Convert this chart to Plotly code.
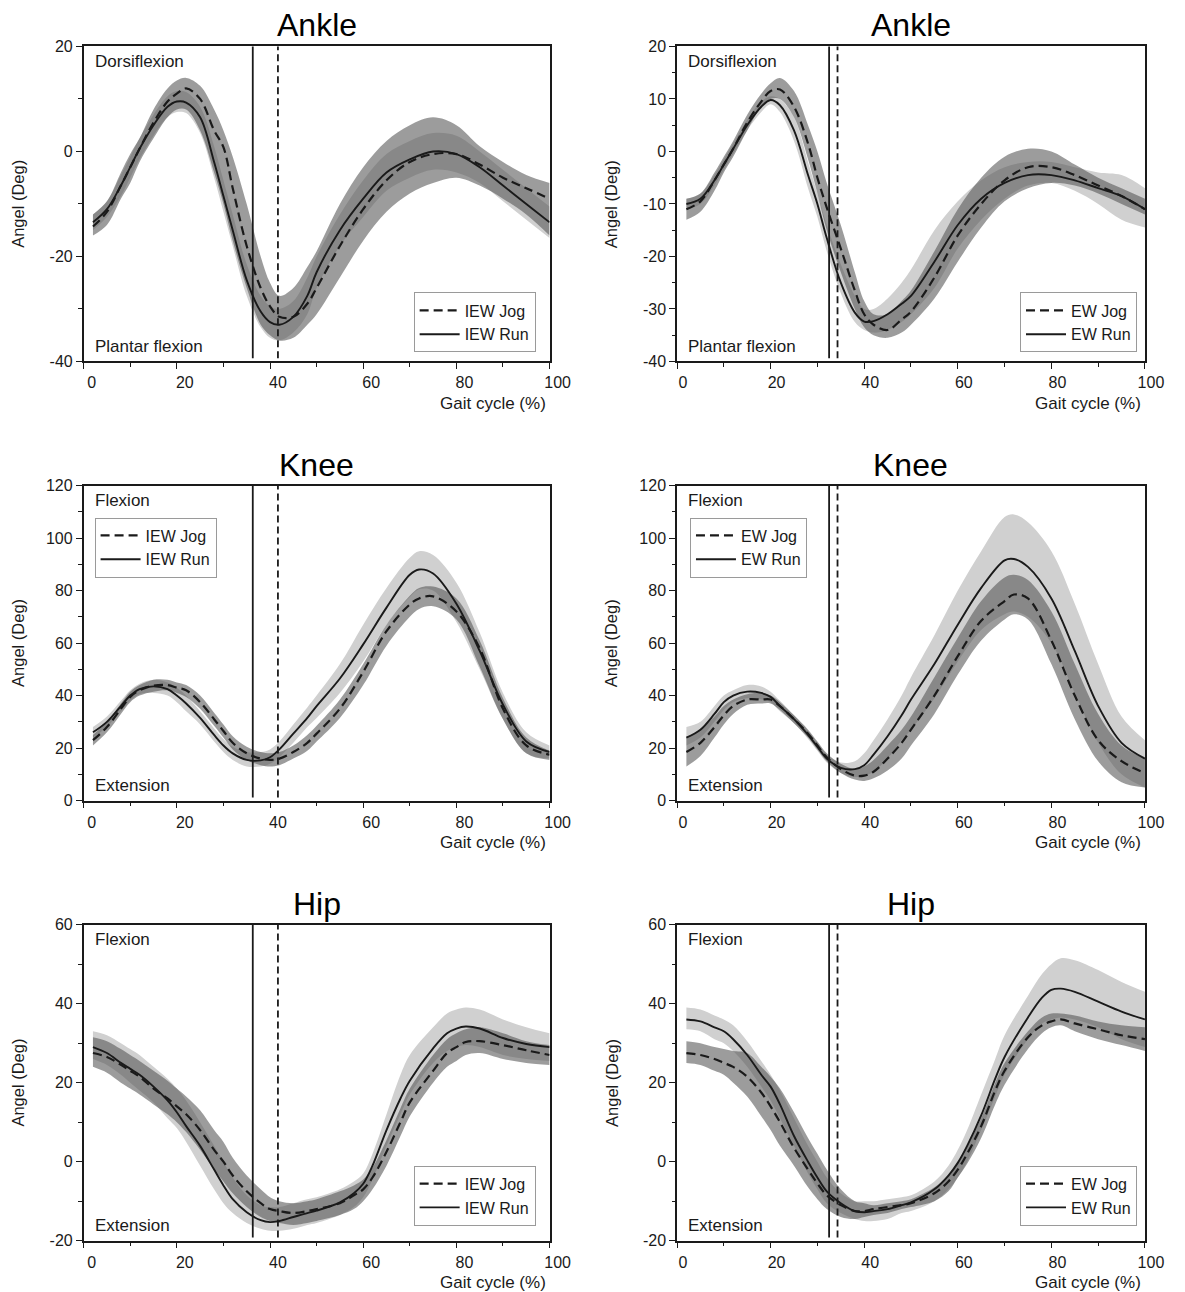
import plotly.graph_objects as go

W, H = 1185, 1292

# ---------------- data ----------------
ANKLE_X = [2, 5, 8, 10, 12, 15, 18, 20, 22, 25, 28, 30, 32, 35, 38, 40, 42, 45, 48, 50,
           55, 60, 65, 70, 75, 80, 85, 90, 95, 100]
KNEE_X = [2, 5, 8, 10, 12, 15, 18, 20, 22, 25, 28, 30, 32, 35, 38, 40, 42, 45, 48, 50,
          55, 60, 65, 70, 72, 75, 80, 85, 90, 95, 100]
HIP_X = [2, 5, 8, 10, 12, 15, 18, 20, 22, 25, 28, 30, 32, 35, 38, 40, 42, 45, 48, 50,
         55, 58, 60, 62, 65, 68, 70, 75, 78, 80, 82, 85, 90, 95, 100]

# Ankle, IEW
ANKLE_IEW_RUN = [-13.5, -11, -6.5, -3, 0.5, 5, 8.5, 9.5, 9.3, 6.5, -2, -8.5, -15, -24.5, -30.5,
                 -32.5, -33, -31.5, -27.5, -23, -15, -9, -4, -1.5, 0, -0.5, -3, -6.5, -10, -13.5]
ANKLE_IEW_RUN_UP = [-12, -9.5, -4.5, -1, 2.5, 7, 10.5, 11.5, 11.3, 8.5, 1, -5.5, -12, -21.5, -27.5,
                    -29.5, -30, -28.5, -24, -20, -12, -5.5, -0.5, 2, 3.5, 3, 0, -3.5, -7, -10.5]
ANKLE_IEW_RUN_LO = [-15, -12.5, -8.5, -5, -1.5, 3, 6.5, 7.5, 7.3, 3.5, -5, -11.5, -18, -27.5, -33.5,
                    -35.5, -36, -34.5, -31, -26, -18, -12.5, -7.5, -5, -3.5, -4, -6, -9.5, -13, -16.5]
ANKLE_IEW_JOG = [-14.3, -11.5, -6.5, -3, 0.5, 5.5, 9.5, 11, 12, 10, 4, 0.8, -7, -18, -26,
                 -29.5, -31.5, -31.5, -29, -26, -18, -11, -5.5, -2, -0.5, -0.5, -2.5, -5, -7, -9]
ANKLE_IEW_JOG_UP = [-12, -9.5, -4, -0.5, 2.5, 8, 12, 13.5, 14, 12.5, 8, 4, -1, -10, -20,
                    -25, -27.5, -26, -22, -19, -10, -3, 2, 5, 6.5, 5, 1, -2, -4.5, -6]
ANKLE_IEW_JOG_LO = [-16, -14, -9, -6, -2, 2.5, 6.5, 8, 8, 4, -4, -10, -17, -26, -33,
                    -35, -36, -35.5, -33, -31, -24, -17, -11.5, -8, -6, -5, -6.5, -9, -12, -16]

# Ankle, EW
ANKLE_EW_RUN = [-10, -9, -5.5, -2.5, 0.5, 5, 8.5, 9.8, 8.8, 4, -4.5, -10, -16.5, -25, -30.7,
                -32.4, -32.3, -31, -29, -27.5, -21, -14, -9, -6, -4.5, -4.5, -5.5, -7, -8.5, -11]
ANKLE_EW_RUN_UP = [-9, -8, -4.5, -1.5, 1.5, 6, 9.5, 10.5, 10, 6.5, -2, -8, -14, -21.5, -27.5,
                   -30, -30, -28, -25, -22.5, -15, -9.5, -5.5, -3, -2, -2, -3, -4, -4.5, -7]
ANKLE_EW_RUN_LO = [-11, -10, -6.5, -3.5, -0.5, 4, 7.5, 9, 7.5, 2, -7, -12.5, -19, -27, -32.5,
                   -34, -34.5, -34, -32.5, -31, -26, -18.5, -13, -9, -6.5, -6, -7.5, -10, -13, -14.5]
ANKLE_EW_JOG = [-11, -9.5, -5.5, -2.5, 0.5, 5.5, 9.5, 11.5, 11.8, 8.5, 1.5, -5, -10.7, -18.5, -26.5,
                -31, -33, -34, -32, -30.5, -24, -16, -10, -5.5, -3, -3, -4.5, -6.5, -8.5, -11]
ANKLE_EW_JOG_UP = [-9, -8, -4, -1, 2, 7, 11, 13, 14, 11.5, 5, 0, -6, -14, -23,
                   -28.5, -31, -31, -28.5, -26.5, -19, -11, -5, -1, 0.5, 0, -2.5, -5, -7, -9]
ANKLE_EW_JOG_LO = [-13, -11.5, -7.5, -4, -1, 4, 8.5, 10, 10, 6.5, -1.5, -8, -15, -23, -30,
                   -33.5, -35, -35.5, -34.5, -33, -28, -21, -14.5, -9.5, -7, -6, -6.5, -8, -10, -12]

# Knee, IEW
KNEE_IEW_RUN = [26, 30, 36, 40, 42.5, 43.5, 42.5, 40, 37, 31.5, 25, 21, 18, 15.5, 15.3, 16.5,
                19.5, 25.5, 31.5, 36, 46.5, 59.5, 73.5, 86, 88, 86.5, 75, 57, 36.5, 22.5, 18.5]
KNEE_IEW_RUN_UP = [28, 32, 38, 42, 44.5, 46, 45, 43, 40, 34, 27.5, 23.5, 20.5, 18.5, 18.5, 19.5,
                   22.5, 29, 35.5, 40, 52, 67, 81, 92.5, 95, 93.5, 83, 64, 41, 26, 21]
KNEE_IEW_RUN_LO = [24, 28, 34, 38, 40.5, 41, 40, 37.5, 34, 29, 22.5, 18.5, 15.5, 13, 13, 14,
                   16.5, 22, 28, 31.5, 41, 53, 67, 77.5, 80.5, 80, 68, 50, 31, 18, 16]
KNEE_IEW_JOG = [23, 28, 35, 39.5, 42, 43.8, 44, 43, 42, 37.5, 31, 26.5, 22, 18, 16, 15.5,
                16, 18.5, 22, 25.5, 35, 49, 64.5, 74.7, 77, 77.8, 72, 58, 35, 21, 17.5]
KNEE_IEW_JOG_UP = [25, 30, 37, 41.5, 44, 46, 46, 45, 44, 40, 33.5, 29, 24.5, 20.5, 18.5, 18,
                   18.5, 21, 25, 28.5, 38.5, 52, 67, 78, 81, 81.5, 77, 61, 39, 24, 19]
KNEE_IEW_JOG_LO = [21, 26, 33, 37.5, 40, 41.5, 42, 41, 39.5, 35, 28.5, 24, 19.5, 15.5, 13.5, 13,
                   13.5, 16, 19, 22.5, 31.5, 44, 59, 70, 73, 74, 69, 51, 31, 18, 15.5]

# Knee, EW
KNEE_EW_RUN = [24, 27, 33, 37.5, 40, 41.5, 41, 39.5, 36, 31, 25, 20.5, 16, 12.5, 12, 13.5,
               17.5, 24.5, 32.5, 38.5, 52, 67, 81, 91.5, 92, 89, 77, 57, 36, 22, 16]
KNEE_EW_RUN_UP = [28, 30, 36, 40, 42, 44, 43.5, 41.5, 38, 32.5, 26.5, 22, 17.5, 14.5, 15, 18,
                  23, 31, 40, 47, 63, 80, 95, 108, 109, 106, 95, 75, 52, 32, 23]
KNEE_EW_RUN_LO = [21, 24, 30, 34.5, 37.5, 39, 38.5, 37.5, 34, 29.5, 23.5, 19, 14.5, 10.5, 9, 9.5,
                  11, 16, 23, 27, 39, 53, 65, 71, 72, 70, 60, 41, 22, 10, 5]
KNEE_EW_JOG = [18.5, 22, 28, 32.5, 36, 38.5, 38.5, 38.5, 36, 31, 25.5, 21, 16.5, 12, 9.5, 9.5,
               11, 16, 22, 27, 40, 55, 68.5, 76, 78.5, 77, 61, 40, 23, 15, 10.5]
KNEE_EW_JOG_UP = [24, 27, 32, 36, 38.5, 40.5, 41, 40, 37.5, 32.5, 27, 22.5, 18, 14, 12, 13,
                  15.5, 21, 27, 32, 47, 62, 76, 85, 86, 84, 72, 52, 33, 21, 16]
KNEE_EW_JOG_LO = [13, 17, 24, 29, 33, 36.5, 37, 37, 34.5, 29.5, 24, 19.5, 15, 10.5, 8, 7.5,
                  8.5, 11.5, 16, 21, 33, 48, 61, 69, 71, 69, 52, 31, 15, 7, 5]

# Hip, IEW
HIP_IEW_RUN = [29, 27.5, 25, 23.5, 22, 19, 15.5, 12.5, 9, 4, -2, -6, -9.5, -12.8, -14.8, -15.3, -15,
               -14, -13, -12.4, -10.3, -8, -5.6, -1, 8, 16, 20.5, 28.7, 32.5, 33.7, 34.2, 33.7,
               31.3, 29.8, 29]
HIP_IEW_RUN_UP = [33, 32, 30, 28.5, 27, 24, 21, 18.5, 15.5, 10, 4, 0, -4, -8.5, -11, -11.5, -11.5,
                  -10.5, -9.5, -9, -7, -5, -3, 2, 12, 22, 27, 34, 37.5, 38.5, 39, 38.5, 36, 34, 32.5]
HIP_IEW_RUN_LO = [26, 24.5, 22, 20, 18, 15, 11, 8.5, 5, -1, -7, -10.5, -13, -15.5, -17, -17.5, -17.5,
                  -17, -16, -15.5, -13.5, -11.5, -9, -4.5, 4, 12, 17, 25, 28, 29, 29.5, 29, 27, 26, 25.5]
HIP_IEW_JOG = [27.5, 26.5, 24.5, 23, 21.5, 18.5, 16, 14, 12, 8, 3, 0, -3.5, -7.5, -10.5, -12, -12.5,
               -13, -12.5, -12, -10.5, -8.5, -7, -4, 2.5, 10, 15, 23, 27.5, 29, 30.3, 30.5, 29.5,
               28.2, 27]
HIP_IEW_JOG_UP = [31.5, 30.5, 28.5, 27, 25.5, 23, 20.5, 18.5, 16.5, 13, 8, 5, 1, -3.5, -7, -9, -10,
                  -10.5, -10, -9.5, -7.5, -6, -4.5, -1.5, 5.5, 13.5, 18.5, 27, 31, 32.5, 33.5, 34,
                  32.5, 30.5, 29.5]
HIP_IEW_JOG_LO = [24, 22.5, 20, 18.5, 17, 14.5, 12, 10, 7.5, 3, -2, -5, -8, -11.5, -14, -15, -15.5,
                  -16, -15.5, -15, -13.5, -12, -10, -7, -1, 6.5, 11.5, 20, 24, 25.5, 27, 27.5, 26,
                  25, 24.5]

# Hip, EW
HIP_EW_RUN = [36, 35.5, 34, 33, 31, 27, 22, 19, 14.5, 6.5, 0, -4, -7.5, -10.5, -12.5, -12.8, -12.5,
              -12, -11, -10.3, -7, -3.5, -0.3, 4, 11.7, 21, 26.5, 36.5, 41.5, 43.5, 43.8, 43, 40.5,
              38, 36]
HIP_EW_RUN_UP = [39, 38.5, 37, 36, 34.5, 30.5, 25.5, 22, 18, 11, 4, 0, -4, -8, -10, -10, -10, -9.5,
                 -9, -8.5, -5, -1, 3, 8, 17, 26, 32, 42, 47.5, 50, 51.5, 51, 48.5, 45.5, 43]
HIP_EW_RUN_LO = [33.5, 33, 31, 30, 28, 24, 19, 15.5, 11, 4, -3, -7, -10.5, -13, -14.5, -15, -15,
                 -14.5, -13, -12.5, -10, -7, -4, 0, 8, 16.5, 22, 31, 35, 36, 36.5, 36, 34, 31, 29]
HIP_EW_JOG = [27.5, 27, 26, 25, 24, 21.5, 17.5, 14, 10, 3.5, -2, -5.5, -8.5, -11, -12.5, -12.5, -12,
              -11.5, -11, -10.5, -8, -5, -2, 2, 9, 18, 23, 31.5, 34.5, 35.5, 36, 35, 33.5, 32, 31]
HIP_EW_JOG_UP = [30.5, 30, 29, 28.5, 28, 27.5, 24, 21.5, 18.5, 12.5, 6, 2, -2, -7, -10, -10.5, -11,
                 -10.5, -10, -9.5, -6.5, -3.5, -0.5, 4, 11, 20, 25, 33, 36.5, 37.5, 37.5, 37, 35.5,
                 34.5, 34]
HIP_EW_JOG_LO = [25, 24.5, 23, 22, 20, 16.5, 11.5, 8, 4, -1, -6.5, -9.5, -12, -14, -14.5, -14, -13.5,
                 -13, -12, -11.5, -10, -7.5, -4, -0.5, 6, 14.5, 19.5, 28.5, 32.5, 34, 34.5, 33, 31,
                 29.5, 28]

# Toe-off markers (% gait cycle): [run, jog]
IEW_TOE_OFF = [36.3, 41.7]
EW_TOE_OFF = [32.5, 34.3]

# Tick values
X_TICKS = [0, 20, 40, 60, 80, 100]
ANKLE_IEW_YTICKS = [-40, -20, 0, 20]
ANKLE_EW_YTICKS = [-40, -30, -20, -10, 0, 10, 20]
KNEE_YTICKS = [0, 20, 40, 60, 80, 100, 120]
HIP_YTICKS = [-20, 0, 20, 40, 60]

JOINTS = ["Ankle", "Knee", "Hip"]
GROUPS = ["IEW", "EW"]
Y_RANGES = {"Ankle": [-40, 20], "Knee": [0, 120], "Hip": [-20, 60]}
Y_TICKS = {("Ankle", "IEW"): ANKLE_IEW_YTICKS, ("Ankle", "EW"): ANKLE_EW_YTICKS,
           ("Knee", "IEW"): KNEE_YTICKS, ("Knee", "EW"): KNEE_YTICKS,
           ("Hip", "IEW"): HIP_YTICKS, ("Hip", "EW"): HIP_YTICKS}
TOP_LABELS = {"Ankle": "Dorsiflexion", "Knee": "Flexion", "Hip": "Flexion"}
BOTTOM_LABELS = {"Ankle": "Plantar flexion", "Knee": "Extension", "Hip": "Extension"}

DATA = {
    ("Ankle", "IEW"): (ANKLE_X, ANKLE_IEW_RUN, ANKLE_IEW_RUN_UP, ANKLE_IEW_RUN_LO,
                       ANKLE_IEW_JOG, ANKLE_IEW_JOG_UP, ANKLE_IEW_JOG_LO),
    ("Ankle", "EW"): (ANKLE_X, ANKLE_EW_RUN, ANKLE_EW_RUN_UP, ANKLE_EW_RUN_LO,
                      ANKLE_EW_JOG, ANKLE_EW_JOG_UP, ANKLE_EW_JOG_LO),
    ("Knee", "IEW"): (KNEE_X, KNEE_IEW_RUN, KNEE_IEW_RUN_UP, KNEE_IEW_RUN_LO,
                      KNEE_IEW_JOG, KNEE_IEW_JOG_UP, KNEE_IEW_JOG_LO),
    ("Knee", "EW"): (KNEE_X, KNEE_EW_RUN, KNEE_EW_RUN_UP, KNEE_EW_RUN_LO,
                     KNEE_EW_JOG, KNEE_EW_JOG_UP, KNEE_EW_JOG_LO),
    ("Hip", "IEW"): (HIP_X, HIP_IEW_RUN, HIP_IEW_RUN_UP, HIP_IEW_RUN_LO,
                     HIP_IEW_JOG, HIP_IEW_JOG_UP, HIP_IEW_JOG_LO),
    ("Hip", "EW"): (HIP_X, HIP_EW_RUN, HIP_EW_RUN_UP, HIP_EW_RUN_LO,
                    HIP_EW_JOG, HIP_EW_JOG_UP, HIP_EW_JOG_LO),
}

# ---------------- layout geometry (target pixels in the photographed page) ----------------
COLS = [(84, 552), (680, 1150)]
ROWS = [(46, 361), (485, 800), (924, 1240)]
LEGEND_BOXES = {  # (x, y, xanchor, yanchor)
    ("Ankle", 0): (538, 352, "right", "bottom"),
    ("Ankle", 1): (1142, 352, "right", "bottom"),
    ("Knee", 0): (95, 517, "left", "top"),
    ("Knee", 1): (693, 517, "left", "top"),
    ("Hip", 0): (538, 1225, "right", "bottom"),
    ("Hip", 1): (1142, 1225, "right", "bottom"),
}

# calibration between figure pixels and the photographed page
CAL_S = 0.9866
CAL_OX = 0.0
CAL_OY = 7.6


def px(x):
    return ((x - CAL_OX) / CAL_S) / W


def py(y):
    return 1 - ((y - CAL_OY) / CAL_S) / H


FONT = "Arial, 'Liberation Sans', Helvetica, sans-serif"
INK = "#1a1a1a"
RUN_FILL = "rgb(208,208,208)"
JOG_FILL = "rgba(85,85,85,0.58)"

fig = go.Figure()
layout = dict(
    width=W, height=H, autosize=False,
    margin=dict(l=0, r=0, t=0, b=0),
    paper_bgcolor="white", plot_bgcolor="white",
    font=dict(family=FONT, color=INK, size=16),
    showlegend=True,
)
annotations = []
shapes = []

for r, joint in enumerate(JOINTS):
    for c, grp in enumerate(GROUPS):
        idx = r * 2 + c + 1
        sfx = "" if idx == 1 else str(idx)
        xa, ya = "x" + sfx, "y" + sfx
        leg = "legend" + sfx
        X, run, run_up, run_lo, jog, jog_up, jog_lo = DATA[(joint, grp)]
        x0, x1 = COLS[c]
        y0, y1 = ROWS[r]

        common = dict(x=X, xaxis=xa, yaxis=ya, mode="lines", hoverinfo="skip",
                      line_shape="spline", legend=leg)
        # run band
        fig.add_trace(go.Scatter(y=run_lo, line=dict(width=0, color=RUN_FILL),
                                 showlegend=False, **common))
        fig.add_trace(go.Scatter(y=run_up, line=dict(width=0, color=RUN_FILL), fill="tonexty",
                                 fillcolor=RUN_FILL, showlegend=False, **common))
        # jog band
        fig.add_trace(go.Scatter(y=jog_lo, line=dict(width=0, color=JOG_FILL),
                                 showlegend=False, **common))
        fig.add_trace(go.Scatter(y=jog_up, line=dict(width=0, color=JOG_FILL), fill="tonexty",
                                 fillcolor=JOG_FILL, showlegend=False, **common))
        # mean lines
        fig.add_trace(go.Scatter(y=jog, name=f"{grp} Jog",
                                 line=dict(color=INK, width=2.2, dash="9px,5px"), **common))
        fig.add_trace(go.Scatter(y=run, name=f"{grp} Run",
                                 line=dict(color=INK, width=1.9), **common))

        ymin, ymax = Y_RANGES[joint]
        yt = Y_TICKS[(joint, grp)]
        ystep = yt[1] - yt[0]
        layout["xaxis" + sfx] = dict(
            domain=[px(x0), px(x1)], anchor=ya, range=[0, 100],
            tickmode="array", tickvals=X_TICKS, ticktext=[str(v) for v in X_TICKS],
            showline=True, linecolor=INK, linewidth=1.5, mirror=True,
            ticks="outside", ticklen=6, tickwidth=1.4, tickcolor=INK,
            minor=dict(ticks="outside", ticklen=3.5, tickwidth=1.4, tickcolor=INK,
                       tickmode="linear", dtick=10, tick0=0, showgrid=False),
            showgrid=False, zeroline=False, ticklabelshift=(8 if c == 0 else 6),
            tickfont=dict(size=16, family=FONT, color=INK), fixedrange=True,
        )
        layout["yaxis" + sfx] = dict(
            domain=[py(y1), py(y0)], anchor=xa, range=[ymin, ymax],
            tickmode="array", tickvals=yt, ticktext=[str(v) for v in yt],
            showline=True, linecolor=INK, linewidth=1.5, mirror=True,
            ticks="outside", ticklen=6, tickwidth=1.4, tickcolor=INK,
            minor=dict(ticks="outside", ticklen=3.5, tickwidth=1.4, tickcolor=INK,
                       tickmode="linear", dtick=ystep / 2, tick0=ymin, showgrid=False),
            showgrid=False, zeroline=False,
            tickfont=dict(size=16, family=FONT, color=INK), fixedrange=True,
        )

        lx, ly, xan, yan = LEGEND_BOXES[(joint, c)]
        layout[leg] = dict(
            x=px(lx), y=py(ly), xanchor=xan, yanchor=yan,
            bgcolor="white", bordercolor="#9a9a9a", borderwidth=1,
            font=dict(size=16, family=FONT, color=INK),
            itemwidth=40, tracegroupgap=0, traceorder="normal",
        )

        # toe-off vertical lines
        toe = IEW_TOE_OFF if grp == "IEW" else EW_TOE_OFF
        shapes.append(dict(type="line", xref=xa, yref=ya + " domain", x0=toe[0], x1=toe[0],
                           y0=0.01, y1=1, line=dict(color=INK, width=1.8)))
        shapes.append(dict(type="line", xref=xa, yref=ya + " domain", x0=toe[1], x1=toe[1],
                           y0=0.01, y1=1, line=dict(color=INK, width=1.8, dash="7px,4px")))

        # titles and labels
        annotations.append(dict(text=joint, x=px((x0 + x1) / 2), y=py(y0 - 21), xref="paper",
                                yref="paper", showarrow=False, xanchor="center", yanchor="middle",
                                font=dict(size=32, family=FONT, color="#000")))
        annotations.append(dict(text="Angel (Deg)", x=px(x0 - 66), y=py((y0 + y1) / 2),
                                xref="paper", yref="paper", showarrow=False, textangle=-90,
                                xanchor="center", yanchor="middle",
                                font=dict(size=16.5, family=FONT, color=INK)))
        annotations.append(dict(text="Gait cycle (%)", x=px(x1 - 2), y=py(y1 + 42),
                                xref="paper", yref="paper", showarrow=False,
                                xanchor="right", yanchor="middle",
                                font=dict(size=17, family=FONT, color=INK)))
        annotations.append(dict(text=TOP_LABELS[joint], x=px(x0 + 9), y=py(y0 + 15),
                                xref="paper", yref="paper", showarrow=False,
                                xanchor="left", yanchor="middle",
                                font=dict(size=17, family=FONT, color=INK)))
        annotations.append(dict(text=BOTTOM_LABELS[joint], x=px(x0 + 9), y=py(y1 - 15),
                                xref="paper", yref="paper", showarrow=False,
                                xanchor="left", yanchor="middle",
                                font=dict(size=17, family=FONT, color=INK)))

layout["annotations"] = annotations
layout["shapes"] = shapes
fig.update_layout(**layout)

fig.write_html(
    "out.html",
    config={"displayModeBar": False},
    post_script=(
        "document.documentElement.style.margin='0';"
        "document.body.style.margin='0';document.body.style.padding='0';"
        "document.body.style.overflow='hidden';"
        "var gd=document.getElementById('{plot_id}');"
        "gd.style.position='absolute';gd.style.left='0px';gd.style.top='0px';"
    ),
)
